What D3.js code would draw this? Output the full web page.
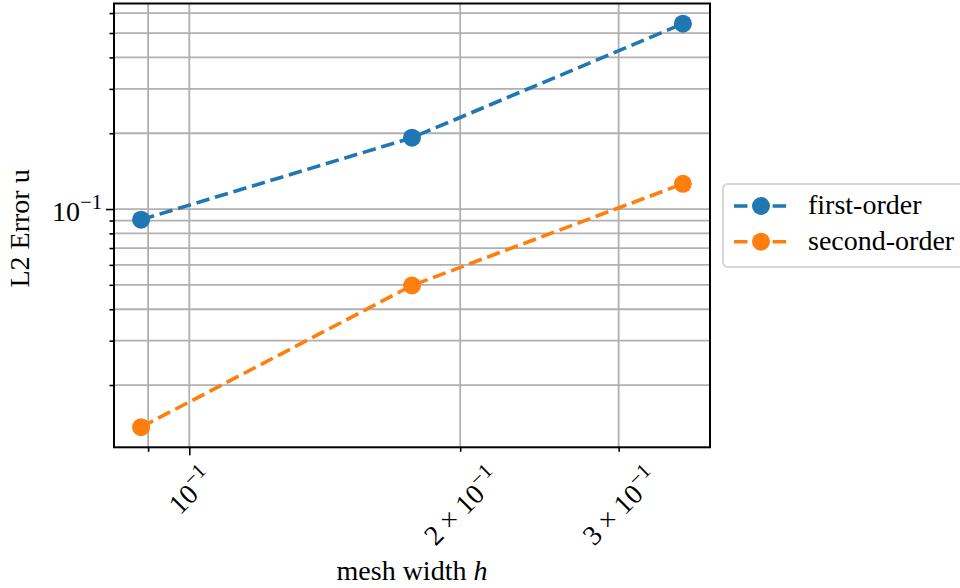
<!DOCTYPE html>
<html>
<head>
<meta charset="utf-8">
<script src="https://cdn.jsdelivr.net/npm/d3@7"></script>
<style>
  html, body { margin: 0; padding: 0; background: #fff; }
  svg { display: block; }
  text { font-family: "Liberation Serif", "Times New Roman", serif; fill: #000; }
</style>
</head>
<body>
<svg id="chart" width="960" height="588"></svg>
<script>
// ---- data ----
const meshWidth = [0.0884, 0.1768, 0.3536];
const firstOrder = [0.0907, 0.192, 0.5447];
const secondOrder = [0.01361, 0.0497, 0.126];
const seriesNames = ["first-order", "second-order"];
const seriesColors = ["#1f77b4", "#ff7f0e"];
const xMajorTicks = [0.1];
const xMinorTicks = [0.09, 0.2, 0.3];
const xTickLabels = [
  {v: 0.1, pre: "", exp: "\u22121"},
  {v: 0.2, pre: "2 \u00d7 10", exp: "\u22121"},
  {v: 0.3, pre: "3 \u00d7 10", exp: "\u22121"}
];
const yMajorTicks = [0.1];
const yMinorTicks = [0.02, 0.03, 0.04, 0.05, 0.06, 0.07, 0.08, 0.09, 0.2, 0.3, 0.4, 0.5, 0.6];
const yTickLabels = [{v: 0.1, pre: "", exp: "\u22121"}];
const xLabel = "mesh width ";
const xLabelItalic = "h";
const yLabel = "L2 Error u";

// ---- layout ----
const svg = d3.select("#chart");
const plot = {left: 114, right: 710, top: 3.5, bottom: 447.3};
const fontSize = 28;

function logDomain(vals) {
  const lo = Math.log10(d3.min(vals)), hi = Math.log10(d3.max(vals));
  const m = (hi - lo) * 0.05;
  return [Math.pow(10, lo - m), Math.pow(10, hi + m)];
}
const x = d3.scaleLog().domain(logDomain(meshWidth)).range([plot.left, plot.right]);
const y = d3.scaleLog().domain(logDomain(firstOrder.concat(secondOrder))).range([plot.bottom, plot.top]);

// ---- grid ----
const grid = svg.append("g").attr("stroke", "#b0b0b0").attr("stroke-width", 1.8);
xMajorTicks.concat(xMinorTicks).forEach(v => {
  grid.append("line").attr("x1", x(v)).attr("x2", x(v)).attr("y1", plot.top).attr("y2", plot.bottom);
});
yMajorTicks.concat(yMinorTicks).forEach(v => {
  grid.append("line").attr("y1", y(v)).attr("y2", y(v)).attr("x1", plot.left).attr("x2", plot.right);
});

// ---- axes ticks via d3 axes ----
const xAxisMajor = d3.axisBottom(x).tickValues(xMajorTicks).tickSize(8).tickFormat("");
const xAxisMinor = d3.axisBottom(x).tickValues(xMinorTicks).tickSize(4.5).tickFormat("");
const yAxisMajor = d3.axisLeft(y).tickValues(yMajorTicks).tickSize(8).tickFormat("");
const yAxisMinor = d3.axisLeft(y).tickValues(yMinorTicks).tickSize(4.5).tickFormat("");
[[xAxisMajor, "b"], [xAxisMinor, "b"], [yAxisMajor, "l"], [yAxisMinor, "l"]].forEach(([ax, side]) => {
  const g = svg.append("g")
    .attr("transform", side === "b" ? `translate(0,${plot.bottom})` : `translate(${plot.left},0)`)
    .call(ax);
  g.select(".domain").remove();
  g.selectAll(".tick line").attr("stroke", "#000").attr("stroke-width", 1.6);
});

// ---- lines ----
const lineGen = d3.line().x(d => x(d[0])).y(d => y(d[1]));
const allSeries = [firstOrder, secondOrder];
allSeries.forEach((vals, i) => {
  const pts = meshWidth.map((h, j) => [h, vals[j]]);
  svg.append("path").datum(pts)
    .attr("d", lineGen)
    .attr("fill", "none")
    .attr("stroke", seriesColors[i])
    .attr("stroke-width", 3.6)
    .attr("stroke-dasharray", "13.5,5.8");
  svg.append("g").selectAll("circle").data(pts).join("circle")
    .attr("cx", d => x(d[0])).attr("cy", d => y(d[1]))
    .attr("r", 9).attr("fill", seriesColors[i]);
});

// ---- frame ----
svg.append("rect")
  .attr("x", plot.left).attr("y", plot.top)
  .attr("width", plot.right - plot.left).attr("height", plot.bottom - plot.top)
  .attr("fill", "none").attr("stroke", "#000").attr("stroke-width", 2);

// ---- tick labels ----
function powText(g, d, size) {
  const t = g.append("text").attr("font-size", size).attr("xml:space", "preserve");
  t.append("tspan").text(d.pre || "10");
  t.append("tspan").attr("dy", -size * 0.42).attr("font-size", size * 0.74).text(d.exp);
  return t;
}
xTickLabels.forEach(d => {
  const g = svg.append("g");
  const t = powText(g, d, fontSize);
  const bb = t.node().getBBox();
  const w = bb.width, h = bb.height;
  const rb = (w + h) / Math.SQRT2;
  const cx = x(d.v), cy = plot.bottom + 8 + 4 + rb / 2;
  const ox = bb.x + bb.width / 2, oy = bb.y + bb.height / 2;
  t.attr("transform", `translate(${cx},${cy}) rotate(-45) translate(${-ox},${-oy})`);
});
yTickLabels.forEach(d => {
  const g = svg.append("g");
  const t = powText(g, d, fontSize);
  const bb = t.node().getBBox();
  t.attr("transform", `translate(${plot.left - 8 - 4 - (bb.x + bb.width)},${y(d.v) - (bb.y + bb.height / 2)})`);
});

// ---- axis labels ----
const xl = svg.append("text")
  .attr("x", (plot.left + plot.right) / 2).attr("y", 580)
  .attr("text-anchor", "middle").attr("font-size", fontSize);
xl.append("tspan").text(xLabel);
xl.append("tspan").attr("font-style", "italic").text(xLabelItalic);

svg.append("text")
  .attr("transform", `translate(29,${(plot.top + plot.bottom) / 2 + 3}) rotate(-90)`)
  .attr("text-anchor", "middle").attr("font-size", fontSize)
  .text(yLabel);

// ---- legend ----
const lg = svg.append("g");
lg.append("rect")
  .attr("x", 723).attr("y", 184).attr("width", 250).attr("height", 83)
  .attr("rx", 5).attr("fill", "#fff").attr("fill-opacity", 0.8)
  .attr("stroke", "#d6d6d6").attr("stroke-width", 2);
seriesNames.forEach((name, i) => {
  const cy = 206 + i * 35.7;
  lg.append("line")
    .attr("x1", 734).attr("x2", 787).attr("y1", cy).attr("y2", cy)
    .attr("stroke", seriesColors[i]).attr("stroke-width", 3.6)
    .attr("stroke-dasharray", "13.5,5.8");
  lg.append("circle").attr("cx", 761).attr("cy", cy).attr("r", 9).attr("fill", seriesColors[i]);
  lg.append("text").attr("x", 808).attr("y", cy + 8).attr("font-size", fontSize).text(name);
});
</script>
</body>
</html>
